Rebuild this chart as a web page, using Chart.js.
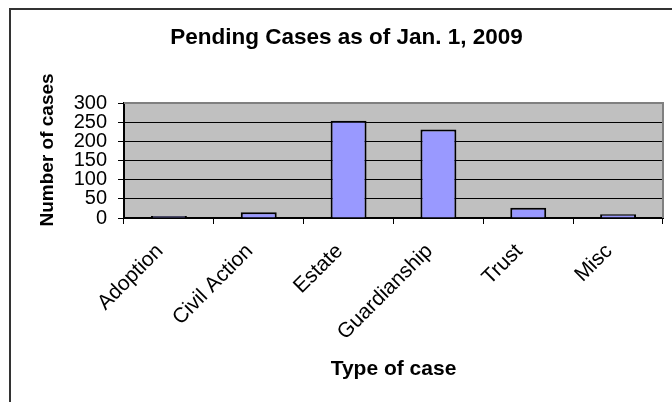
<!DOCTYPE html>
<html>
<head>
<meta charset="utf-8">
<script src="https://cdn.jsdelivr.net/npm/chart.js@4"></script>
<style>
  body { margin: 0; background: #fff; }
  .container { position: relative; width: 672px; height: 402px; overflow: hidden; }
  .frame { position: absolute; left: 9px; top: 8px; width: 700px; height: 420px;
           border-top: 2px solid #333; border-left: 2px solid #333; }
  canvas { position: absolute; left: 0; top: 0; }
</style>
</head>
<body>
<div class="container">
  <div class="frame"></div>
  <canvas id="myChart" width="672" height="402"></canvas>
</div>
<script>
// values
const case_types = ['Adoption', 'Civil Action', 'Estate', 'Guardianship', 'Trust', 'Misc']
const pending_cases = [5, 15, 254, 231, 27, 10]
const y_ticks = [0, 50, 100, 150, 200, 250, 300]

const font_name = '"Liberation Sans", Arial, sans-serif'

// gray plot area like the old excel chart
const plot_area_bg = {
    id: 'plot_area_bg',
    beforeDraw(chart) {
        const { ctx, chartArea: a } = chart
        ctx.save()
        ctx.fillStyle = '#C0C0C0'
        ctx.fillRect(a.left, a.top, a.right - a.left, a.bottom - a.top)
        ctx.restore()
    },
    afterDraw(chart) {
        const { ctx, chartArea: a } = chart
        ctx.save()
        ctx.strokeStyle = '#808080'
        ctx.lineWidth = 2
        ctx.beginPath()
        ctx.moveTo(a.left, a.top)
        ctx.lineTo(a.right, a.top)
        ctx.lineTo(a.right, a.bottom)
        ctx.stroke()
        ctx.restore()
    }
}

const ctx = document.getElementById('myChart').getContext('2d')
const myChart = new Chart(ctx, {
    type: 'bar',
    data: {
        labels: case_types,
        datasets: [{
            data: pending_cases,
            backgroundColor: '#9999FF',
            borderColor: '#000',
            borderWidth: 2,
            barPercentage: 0.4,
            categoryPercentage: 1
        }]
    },
    options: {
        responsive: false,
        animation: false,
        layout: { padding: { top: 0, right: 9, bottom: 0, left: 30 } },
        plugins: {
            legend: { display: false },
            tooltip: { enabled: false },
            title: {
                display: true,
                text: 'Pending Cases as of Jan. 1, 2009',
                color: '#000',
                font: { family: font_name, size: 22.5, weight: 'bold' },
                padding: { top: 24, bottom: 52 }
            }
        },
        scales: {
            x: {
                afterFit(axis) { axis.height = 184 },
                grid: { drawOnChartArea: false, drawTicks: true, tickLength: 6, color: '#000', lineWidth: 1 },
                border: { color: '#000', width: 2 },
                ticks: {
                    color: '#000',
                    font: { family: font_name, size: 21 },
                    maxRotation: 45, minRotation: 45,
                    padding: 15,
                    labelOffset: -9
                },
                title: {
                    display: true,
                    text: 'Type of case',
                    color: '#000',
                    font: { family: font_name, size: 21, weight: 'bold' },
                    padding: { top: 8, bottom: 20 }
                }
            },
            y: {
                min: 0, max: 300,
                afterBuildTicks(axis) { axis.ticks = y_ticks.map(v => ({ value: v })) },
                afterFit(axis) { axis.width = 94 },
                grid: { color: '#000', lineWidth: 1, drawTicks: true, tickLength: 6 },
                border: { color: '#000', width: 2 },
                ticks: {
                    color: '#000',
                    autoSkip: false,
                    font: { family: font_name, size: 20, lineHeight: 1 },
                    padding: 11
                },
                title: {
                    display: true,
                    text: '    Number of cases',
                    color: '#000',
                    font: { family: font_name, size: 19, weight: 'bold' },
                    padding: { top: 6, bottom: 4 }
                }
            }
        }
    },
    plugins: [plot_area_bg]
})
</script>
</body>
</html>
